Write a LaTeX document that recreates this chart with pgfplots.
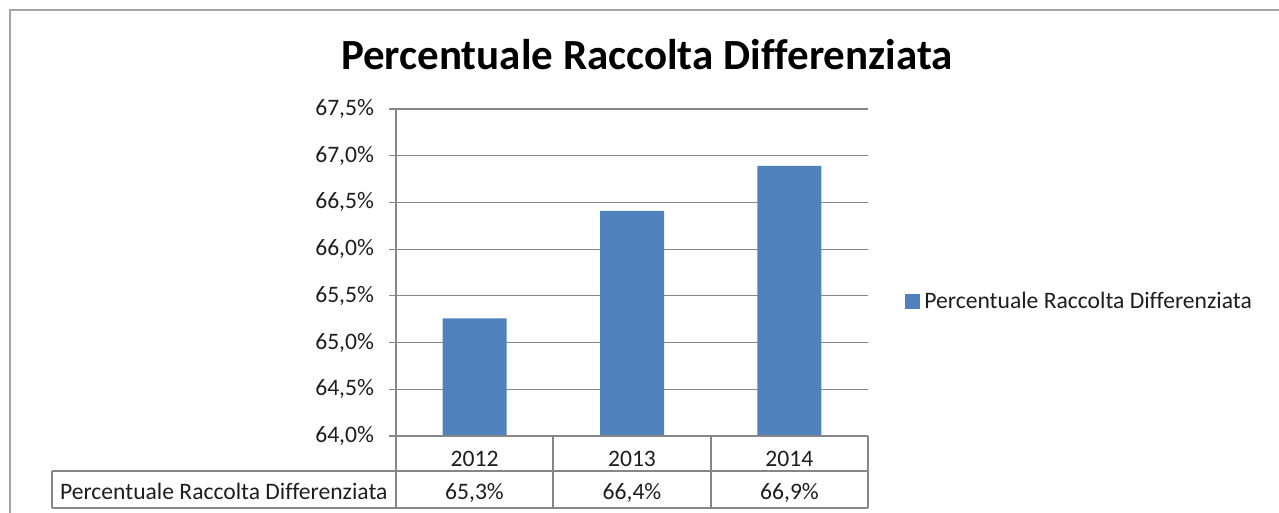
\documentclass[border=0pt]{standalone}
\usepackage{pgfplots}
\pgfplotsset{compat=1.18}
\usepackage{fontspec}
\setmainfont{Carlito}[Ligatures=NoCommon]
\definecolor{barblue}{RGB}{79,129,189}
\definecolor{gridgray}{RGB}{134,134,134}
\definecolor{framegray}{RGB}{165,165,165}
\definecolor{txt}{RGB}{30,30,30}
\begin{document}
\begin{tikzpicture}[x=0.5pt,y=0.5pt]
% outer chart frame (top and left edges visible)
\draw[framegray,line width=1.2pt] (10,0) -- (10,503) -- (1279,503);
% title
\node[anchor=base,font=\bfseries\fontsize{21.5}{25}\selectfont] at (647,443) {Percentuale Raccolta Differenziata};
\begin{axis}[
  at={(198pt,38.5pt)}, anchor=south west,
  scale only axis, width=236pt, height=163.5pt,
  xmin=-0.5, xmax=2.5, ymin=64, ymax=67.5,
  ybar, bar width=32pt,
  xtick={0,1,2}, xticklabels={2012,2013,2014},
  xtick style={draw=none},
  ytick={64,64.5,65,65.5,66,66.5,67,67.5},
  yticklabels={{64,0\%},{64,5\%},{65,0\%},{65,5\%},{66,0\%},{66,5\%},{67,0\%},{67,5\%}},
  ytick align=outside, major tick length=3.5pt,
  ytick style={gridgray, line width=0.6pt},
  ymajorgrids, grid style={gridgray, line width=0.6pt},
  axis x line*=bottom,
  x axis line style={draw=none},
  axis y line*=left,
  y axis line style={gridgray, line width=0.6pt, -},
  tick label style={font=\fontsize{11.8}{14}\selectfont, text=txt},
  yticklabel style={xshift=-4pt},
  xticklabel style={anchor=base, yshift=-12pt},
  legend style={at={(1,0.41)}, anchor=west, draw=none, xshift=15.5pt,
    font=\fontsize{11.8}{14}\selectfont, text=txt},
  legend image code/.code={\fill[#1] (0pt,-3.75pt) rectangle (7.5pt,3.75pt);},
  clip=false,
]
\addplot[draw=none, fill=barblue] coordinates {(0,65.26) (1,66.41) (2,66.89)};
\addlegendentry{Percentuale Raccolta Differenziata}
\end{axis}
% data table
\begin{scope}[gridgray, line width=0.6pt]
\draw (396,77) -- (868,77);
\draw (52,42) -- (868,42);
\draw (52,5) -- (868,5);
\draw (52,42) -- (52,5);
\draw (396,77) -- (396,5);
\draw (553,77) -- (553,5);
\draw (711,77) -- (711,5);
\draw (868,77) -- (868,5);
\end{scope}
\begin{scope}[every node/.style={font=\fontsize{11.8}{14}\selectfont, text=txt}]
\node[anchor=base west] at (53,13) {Percentuale Raccolta Differenziata};
\node[anchor=base] at (474.5,13) {65,3\%};
\node[anchor=base] at (632,13) {66,4\%};
\node[anchor=base] at (789.5,13) {66,9\%};
\end{scope}
\pgfresetboundingbox
\path[use as bounding box] (0,0) rectangle (1279,513);
\end{tikzpicture}
\end{document}
